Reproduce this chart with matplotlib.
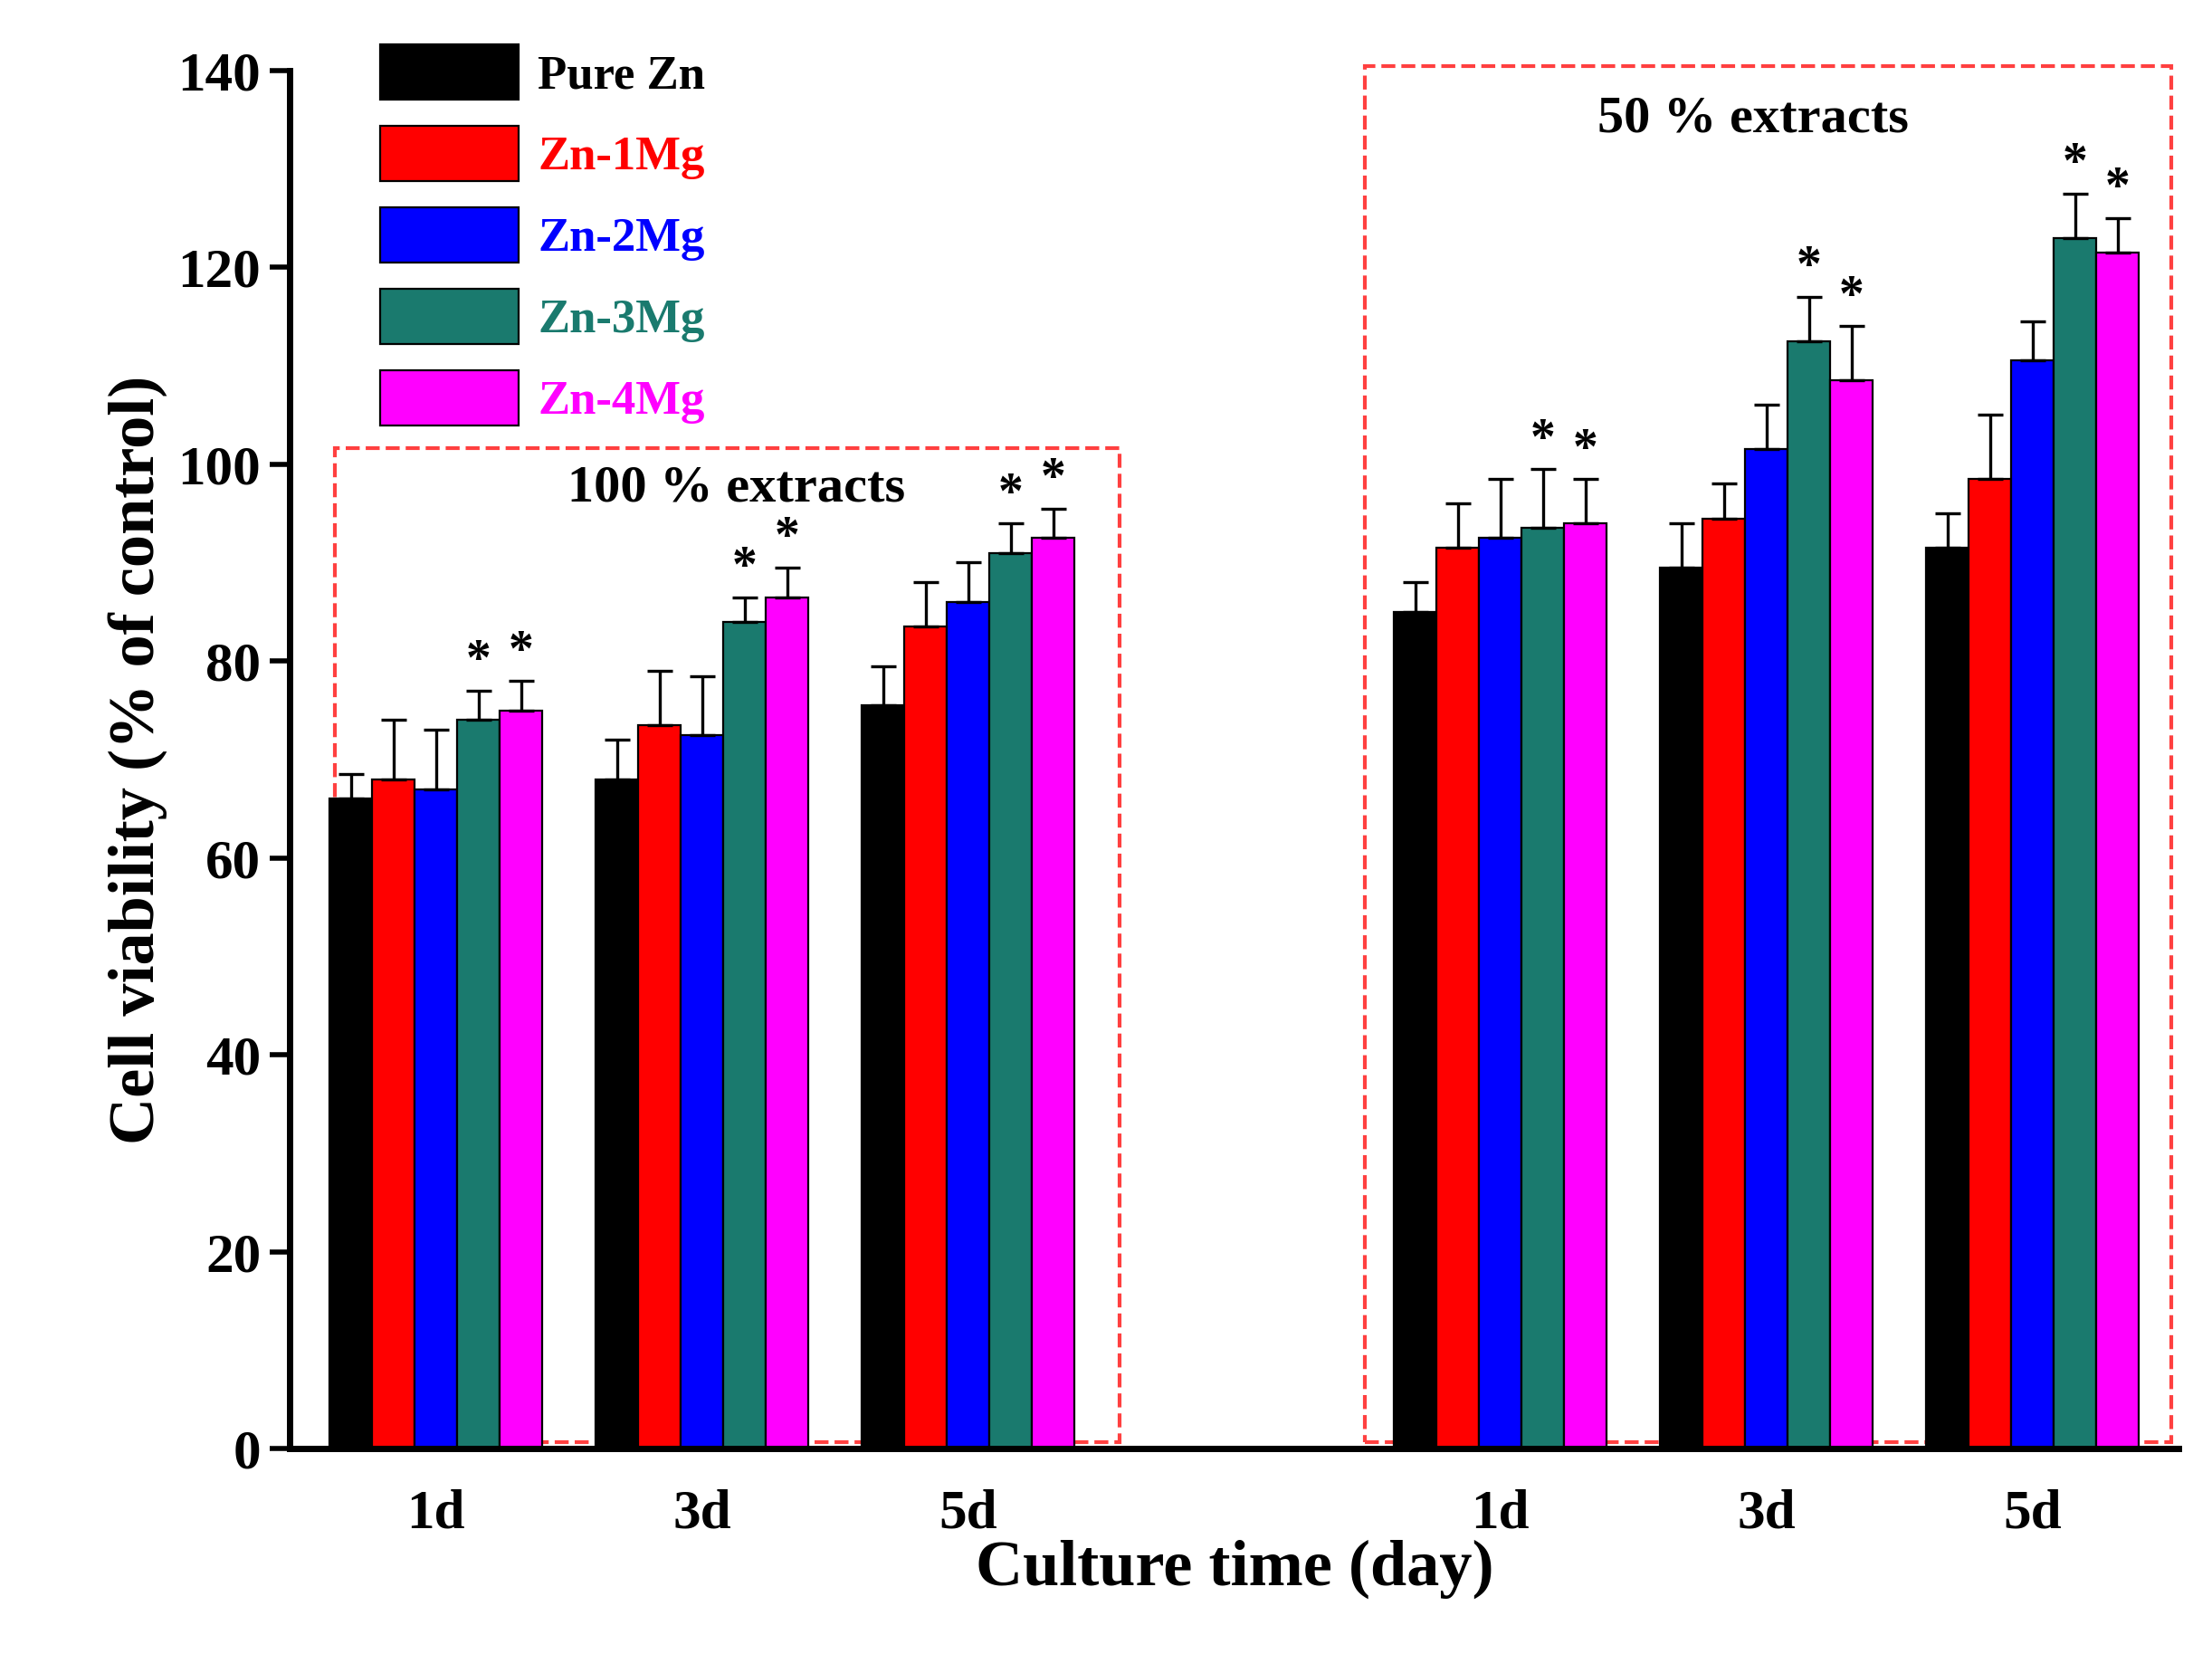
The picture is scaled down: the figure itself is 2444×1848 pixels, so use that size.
import matplotlib
matplotlib.use("Agg")
import matplotlib.pyplot as plt
from matplotlib.patches import Rectangle
import numpy as np

plt.rcParams["font.family"] = "Liberation Serif"
plt.rcParams["font.weight"] = "bold"

group_labels = ["1d", "3d", "5d", "1d", "3d", "5d"]
group_pos = [0, 1, 2, 4, 5, 6]
series = ["Pure Zn", "Zn-1Mg", "Zn-2Mg", "Zn-3Mg", "Zn-4Mg"]
colors = ["#000000", "#ff0000", "#0000ff", "#1a7a6e", "#ff00ff"]
pure_zn = [66, 68, 75.5, 85, 89.5, 91.5]
zn1 = [68, 73.5, 83.5, 91.5, 94.5, 98.5]
zn2 = [67, 72.5, 86, 92.5, 101.5, 110.5]
zn3 = [74, 84, 91, 93.5, 112.5, 123]
zn4 = [75, 86.5, 92.5, 94, 108.5, 121.5]
err_pure = [2.5, 4, 4, 3, 4.5, 3.5]
err1 = [6, 5.5, 4.5, 4.5, 3.5, 6.5]
err2 = [6, 6, 4, 6, 4.5, 4]
err3 = [3, 2.5, 3, 6, 4.5, 4.5]
err4 = [3, 3, 3, 4.5, 5.5, 3.5]
values = [pure_zn, zn1, zn2, zn3, zn4]
errors = [err_pure, err1, err2, err3, err4]
starred = [3, 4]

fig = plt.figure(figsize=(12.22, 9.24), dpi=200)
ax = fig.add_axes([0.131, 0.134, 0.854, 0.824])
w = 0.16
for i in range(5):
    x = np.array(group_pos) + (i - 2) * w
    ax.bar(x, values[i], w, color=colors[i], edgecolor="black", linewidth=0.8, label=series[i], zorder=2)
    ax.errorbar(x, values[i], yerr=[np.zeros(6), errors[i]], fmt="none", ecolor="black",
                elinewidth=1.2, capsize=5, capthick=1.2, zorder=3)
    if i in starred:
        for xx, v, e in zip(x, values[i], errors[i]):
            ax.text(xx, v + e + 0.5, "*", ha="center", va="bottom", fontsize=20, fontweight="bold")

ax.add_patch(Rectangle((-0.38, 0.7), 2.95, 100.9, fill=False, ls="--", ec="#ff4040", lw=1.5, zorder=1, clip_on=False))
ax.add_patch(Rectangle((3.49, 0.7), 3.03, 139.7, fill=False, ls="--", ec="#ff4040", lw=1.5, zorder=1, clip_on=False))
ax.text(1.13, 97.5, "100 % extracts", ha="center", va="center", fontsize=21, fontweight="bold")
ax.text(4.95, 135, "50 % extracts", ha="center", va="center", fontsize=21, fontweight="bold")

ax.set_xlim(-0.55, 6.55)
ax.set_ylim(0, 140)
ax.set_xticks(group_pos)
ax.set_xticklabels(group_labels)
ax.set_yticks(range(0, 141, 20))
ax.tick_params(axis="x", length=0, labelsize=22, pad=16)
ax.tick_params(axis="y", direction="out", length=8, width=2, labelsize=22)
for s in ["top", "right"]:
    ax.spines[s].set_visible(False)
for s in ["left", "bottom"]:
    ax.spines[s].set_linewidth(2.5)
ax.set_xlabel("Culture time (day)", fontsize=26, fontweight="bold", labelpad=0)
ax.set_ylabel("Cell viability (% of control)", fontsize=26, fontweight="bold")

leg = ax.legend(loc="upper left", bbox_to_anchor=(0.025, 1.05), frameon=False, fontsize=19,
                handlelength=2.9, handleheight=1.4, labelspacing=0.55, handletextpad=0.4)
for t, c in zip(leg.get_texts(), colors):
    t.set_color(c)
    t.set_fontweight("bold")

fig.savefig("out.png", dpi=200)
